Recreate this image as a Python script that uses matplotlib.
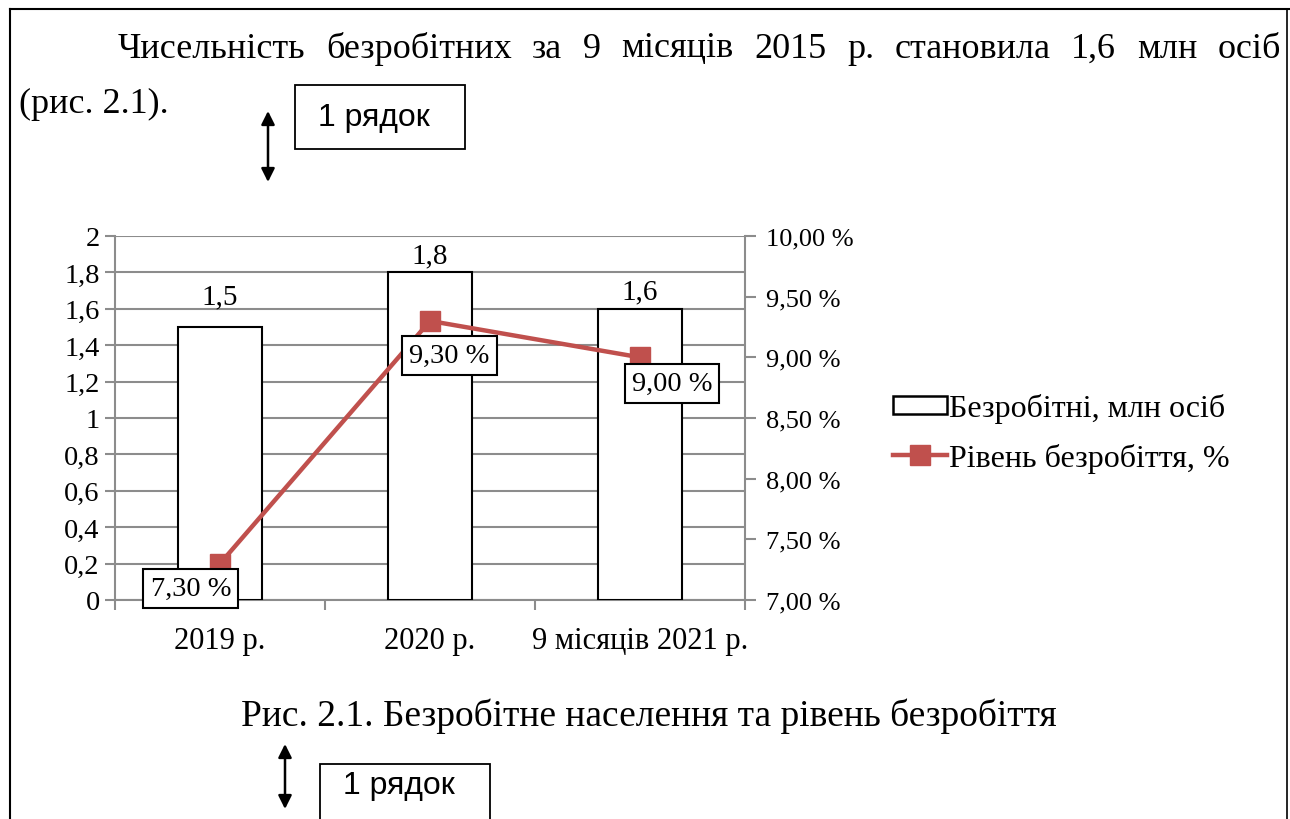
import matplotlib
matplotlib.use("Agg")
import matplotlib.pyplot as plt
from matplotlib.patches import Rectangle, FancyArrowPatch
from matplotlib.lines import Line2D

categories = ["2019 р.", "2020 р.", "9 місяців 2021 р."]
unemployed = [1.5, 1.8, 1.6]      # млн осіб
rate = [7.3, 9.3, 9.0]            # %
left_ticks = [0, 0.2, 0.4, 0.6, 0.8, 1.0, 1.2, 1.4, 1.6, 1.8, 2.0]
right_ticks = [7.0, 7.5, 8.0, 8.5, 9.0, 9.5, 10.0]
bar_name = "Безробітні, млн осіб"
line_name = "Рівень безробіття, %"

heading = "Чисельність безробітних за 9 місяців 2015 р. становила 1,6 млн осіб"
heading2 = "(рис. 2.1)."
caption = "Рис. 2.1. Безробітне населення та рівень безробіття"
note = "1 рядок"

W, H = 1290, 820
serif = "Liberation Serif"
sans = "Liberation Sans"
grey = "#8c8c8c"
red = "#c0504d"


def fx(px):
    return px / W


def fy(py):
    return 1 - py / H


def num(v, nd):
    return f"{v:.{nd}f}".replace(".", ",")


fig = plt.figure(figsize=(W / 100, H / 100), dpi=100)

# page border
fig.add_artist(Line2D([fx(10), fx(10)], [fy(10), 0], color="black", lw=1.5))
fig.add_artist(Line2D([fx(10), 1], [fy(10), fy(10)], color="black", lw=1.5))
fig.add_artist(Line2D([fx(1287), fx(1287)], [fy(10), 0], color="black", lw=1.2))

# justified first line of the paragraph
words = heading.split()
fig.canvas.draw()
rend = fig.canvas.get_renderer()
tmp = []
for w in words:
    t = fig.text(0, fy(49), w, fontsize=26, family=serif, va="center")
    tmp.append(t)
widths = [t.get_window_extent(rend).width for t in tmp]
x0, x1 = 118, 1281
gap = (x1 - x0 - sum(widths)) / (len(words) - 1)
xp = x0
for t, wd in zip(tmp, widths):
    t.set_x(fx(xp))
    xp += wd + gap
fig.text(fx(19), fy(104), heading2, fontsize=26, family=serif, va="center")


# "1 рядок" markers
def note_box(xl, yt, xr, yb, ty, ax_x, ay0, ay1):
    fig.add_artist(Rectangle((fx(xl), fy(yb)), fx(xr) - fx(xl), fy(yt) - fy(yb),
                             fill=False, ec="black", lw=1.3))
    fig.text(fx(xl + 23), fy(ty), note, fontsize=23, family=sans,
             ha="left", va="center")
    fig.add_artist(FancyArrowPatch((fx(ax_x), fy(ay0)), (fx(ax_x), fy(ay1)),
                                   arrowstyle="<|-|>", mutation_scale=20,
                                   color="black", lw=1.8, shrinkA=0, shrinkB=0))


note_box(295, 86, 465, 150, 118, 268, 112, 183)
note_box(320, 765, 490, 840, 786, 285, 745, 810)

fig.text(fx(649), fy(716), caption, fontsize=27, family=serif, ha="center", va="center")

# chart
ax = fig.add_axes([fx(115), fy(601), fx(745) - fx(115), fy(237) - fy(601)])
x = list(range(len(categories)))
bars = ax.bar(x, unemployed, width=0.4, color="white", edgecolor="black", lw=1.5, zorder=3)
ax.set_xlim(-0.5, 2.5)
ax.set_ylim(0, 2)
ax.set_yticks(left_ticks)
ax.set_yticklabels([num(v, 1) if v % 1 else str(int(v)) for v in left_ticks])
ax.yaxis.grid(True, color=grey, lw=1.5)
ax.set_axisbelow(True)
ax.set_xticks(x)
ax.set_xticklabels(categories)
ax.set_xticks([-0.5, 0.5, 1.5, 2.5], minor=True)
ax.tick_params(axis="x", which="major", length=0, pad=19, labelsize=22)
ax.tick_params(axis="x", which="minor", length=7, width=1.5, color=grey)
ax.tick_params(axis="y", length=7, width=1.5, color=grey, labelsize=20.5, pad=4)
for lab in ax.get_xticklabels() + ax.get_yticklabels():
    lab.set_family(serif)
ax.spines["top"].set_visible(False)
ax.spines["right"].set_visible(False)
for s in ("left", "bottom"):
    ax.spines[s].set_color(grey)
    ax.spines[s].set_linewidth(1.5)

bar_label_offsets = [13, 3, 3]
for b, v, dy in zip(bars, unemployed, bar_label_offsets):
    ax.annotate(num(v, 1), (b.get_x() + b.get_width() / 2, v), xytext=(0, dy),
                textcoords="offset points", ha="center", va="bottom",
                fontsize=21, family=serif)

ax2 = ax.twinx()
ax2.plot(x, rate, color=red, lw=3.2, marker="s", ms=14, zorder=4)
ax2.set_ylim(7, 10)
ax2.set_yticks(right_ticks)
ax2.set_yticklabels([num(v, 2) + " %" for v in right_ticks])
ax2.tick_params(axis="y", length=8, width=1.5, color=grey, labelsize=19, pad=7)
for lab in ax2.get_yticklabels():
    lab.set_family(serif)
for s in ("top", "left", "bottom"):
    ax2.spines[s].set_visible(False)
ax2.spines["right"].set_color(grey)
ax2.spines["right"].set_linewidth(1.5)

label_offsets = [(-21, -18), (14, -25), (23, -19)]
for xi, v, off in zip(x, rate, label_offsets):
    ax2.annotate(num(v, 2) + " %", (xi, v), xytext=off, textcoords="offset points",
                 ha="center", va="center", fontsize=20.5, family=serif, zorder=5,
                 bbox=dict(boxstyle="square,pad=0.25", fc="white", ec="black", lw=1.5))

handles = [Rectangle((0, 0), 1, 1, fc="white", ec="black", lw=1.8),
           Line2D([], [], color=red, lw=3.2, marker="s", ms=14)]
fig.legend(handles, [bar_name, line_name], loc="center left",
           bbox_to_anchor=(fx(864), fy(434)), frameon=False,
           prop={"family": serif, "size": 23}, handlelength=1.7,
           handletextpad=0.05, labelspacing=0.6, handleheight=0.5)

fig.savefig("out.png", dpi=100)
